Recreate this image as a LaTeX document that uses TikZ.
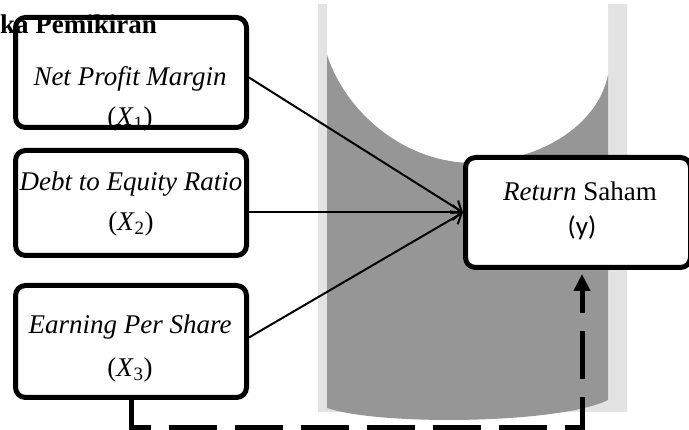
\documentclass[tikz,border=0pt]{standalone}
\usepackage{fontspec}
\setmainfont{Liberation Serif}
\newfontfamily\calfont{Carlito}
\usetikzlibrary{arrows.meta}
\begin{document}
\begin{tikzpicture}[x=1pt,y=-1pt,
  box/.style={draw, line width=5pt, rounded corners=10pt, fill=white, inner sep=0pt},
  lab/.style={inner sep=0pt, anchor=base, font=\fontsize{27}{32}\selectfont},
  arr/.style={line width=2pt, -{Straight Barb[length=9pt,width=15pt]}},
  dashline/.style={line width=5pt, dash pattern=on 48pt off 18pt, shorten >=4pt, -{Triangle[length=17pt,width=16pt]}}]
\useasboundingbox (0,0) rectangle (689,430);
% background shape
\fill[gray!22] (318,4) rectangle (627,412);
\fill[white] (327,4) -- (327,55) .. controls (345,110) and (400,160) .. (468,163)
  .. controls (540,163) and (598,125) .. (608,75) -- (608,4) -- cycle;
\fill[gray!82] (327,55) .. controls (345,110) and (400,160) .. (468,163)
  .. controls (540,163) and (598,125) .. (608,75) -- (608,400)
  .. controls (560,424) and (380,426) .. (327,408) -- cycle;
% boxes
\node[box, minimum width=231pt, minimum height=110pt] (b1) at (131,72.5) {};
\node[box, minimum width=231pt, minimum height=105pt] (b2) at (131,203) {};
\node[box, minimum width=231pt, minimum height=112pt] (b3) at (131,341.5) {};
\node[box, minimum width=225pt, minimum height=110pt] (r) at (578,212.5) {};
% texts
\node[lab] (t1) at (130,86) {\itshape Net Profit Margin};
\node[lab] (x1) at (130,126) {(\textit{X}\textsubscript{1})};
\node[lab] (t2) at (131,191) {\itshape Debt to Equity Ratio};
\node[lab] (x2) at (131,231) {(\textit{X}\textsubscript{2})};
\node[lab] (t3) at (130,334) {\itshape Earning Per Share};
\node[lab] (x3) at (130,377) {(\textit{X}\textsubscript{3})};
\node[lab] (tr) at (580,201) {\textit{Return} Saham};
\node[lab] (yr) at (582,236) {\calfont (y)};
\node[lab, anchor=base west] (title) at (0,34) {\bfseries ka Pemikiran};
% connectors
\draw[arr] ([yshift=-5pt]b1.east) -- (r.west);
\draw[arr] (b2.east |- r.west) -- (r.west);
\draw[arr] ([yshift=4pt]b3.east) -- (r.west);
\coordinate (c1) at (582,428);
\draw[dashline] (b3.south) |- (c1) -- (r.south -| c1);
\end{tikzpicture}
\end{document}
